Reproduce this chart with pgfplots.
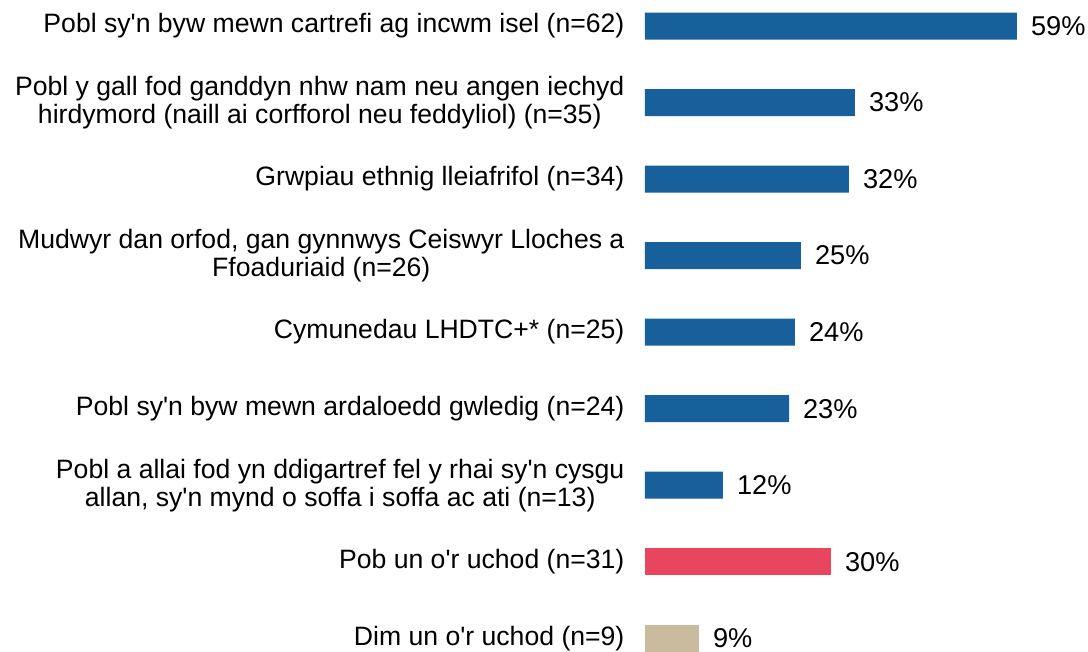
\documentclass[border=0pt]{standalone}
\usepackage{pgfplots}
\pgfplotsset{compat=1.18}
\usepackage{fontspec}
\setmainfont{Liberation Sans}
\definecolor{cblue}{HTML}{17609B}
\definecolor{cred}{HTML}{E8465F}
\definecolor{ctan}{HTML}{CBBB9E}
\newcommand{\q}{\textquotesingle}
\begin{document}
\begin{tikzpicture}
\begin{axis}[
  scale only axis,
  width=220.5pt, height=326pt,
  xmin=0, xmax=70,
  ymin=-0.34, ymax=8.18,
  y dir=reverse,
  xbar, bar shift=0pt, bar width=13.5pt,
  axis line style={draw=none},
  tick style={draw=none},
  xtick=\empty,
  ytick={0,...,8},
  yticklabels={
    {Pobl sy\q n byw mewn cartrefi ag incwm isel (n=62)},
    {Pobl y gall fod ganddyn nhw nam neu angen iechyd\\hirdymord (naill ai corfforol neu feddyliol) (n=35)},
    {Grwpiau ethnig lleiafrifol (n=34)},
    {Mudwyr dan orfod, gan gynnwys Ceiswyr Lloches a\\Ffoaduriaid (n=26)},
    {Cymunedau LHDTC+* (n=25)},
    {Pobl sy\q n byw mewn ardaloedd gwledig (n=24)},
    {Pobl a allai fod yn ddigartref fel y rhai sy\q n cysgu\\allan, sy\q n mynd o soffa i soffa ac ati (n=13)},
    {Pob un o\q r uchod (n=31)},
    {Dim un o\q r uchod (n=9)}},
  yticklabel style={align=center, font=\fontsize{13.3}{14}\selectfont, xshift=-2.5pt},
  point meta=explicit symbolic,
  nodes near coords={\pgfplotspointmeta\%},
  nodes near coords style={font=\fontsize{13.6}{15}\selectfont, anchor=west, xshift=3.5pt, text=black},
  clip=false,
]
\addplot[fill=cblue, draw=none] coordinates {
  (59.05,0) [59] (33.33,1) [33] (32.38,2) [32] (24.76,3) [25]
  (23.81,4) [24] (22.86,5) [23] (12.38,6) [12]};
\addplot[fill=cred, draw=none] coordinates {(29.52,7) [30]};
\addplot[fill=ctan, draw=none] coordinates {(8.57,8) [9]};
\end{axis}
\pgfresetboundingbox
\path[use as bounding box] (-322.5pt,0pt) rectangle (221.5pt,326pt);
\end{tikzpicture}
\end{document}
